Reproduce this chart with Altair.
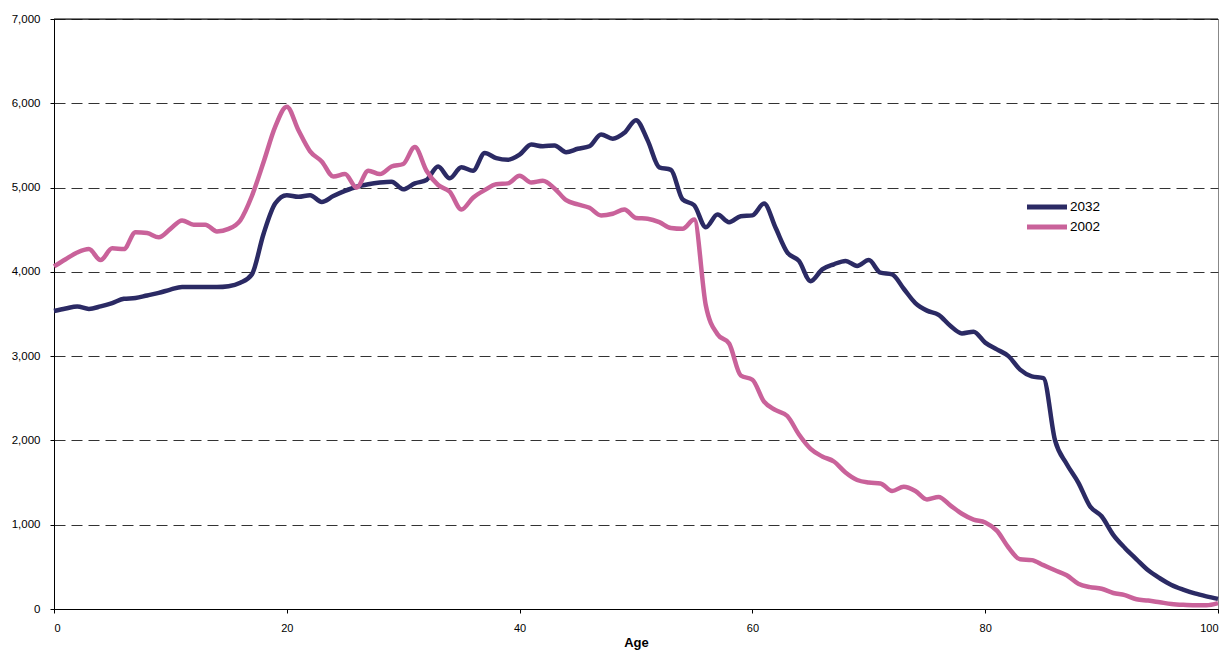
import altair as alt
import pandas as pd

ages = list(range(101))

pop_2032 = [
    3535, 3565, 3590, 3560, 3590, 3630, 3680, 3690, 3720, 3750,
    3790, 3820, 3820, 3820, 3820, 3830, 3870, 3970, 4450, 4810,
    4910, 4890, 4910, 4830, 4900, 4960, 5010, 5040, 5060, 5070,
    4980, 5050, 5090, 5250, 5110, 5240, 5200, 5410, 5350, 5330,
    5390, 5510, 5490, 5500, 5420, 5460, 5490, 5630, 5580, 5650,
    5800, 5560, 5240, 5210, 4860, 4790, 4530, 4680, 4590, 4660,
    4670, 4810, 4520, 4230, 4130, 3890, 4030, 4090, 4130, 4070,
    4140, 3990, 3970, 3800, 3630, 3540, 3490, 3360, 3270, 3290,
    3160, 3080, 3000, 2840, 2760, 2740, 2000, 1720, 1500, 1220,
    1100, 880, 724, 590, 460, 365, 285, 230, 185, 150,
    120,
]

pop_2002 = [
    4065, 4150, 4230, 4270, 4140, 4280, 4270, 4470, 4460, 4410,
    4510, 4610, 4560, 4560, 4480, 4510, 4610, 4900, 5300, 5720,
    5960, 5680, 5430, 5310, 5130, 5160, 5000, 5200, 5160, 5250,
    5280, 5480, 5200, 5030, 4950, 4740, 4880, 4970, 5040, 5050,
    5140, 5060, 5080, 4990, 4850, 4800, 4760, 4670, 4690, 4740,
    4640, 4630, 4590, 4520, 4510, 4620, 3600, 3260, 3150, 2770,
    2720, 2460, 2360, 2290, 2070, 1900, 1810, 1750, 1620, 1530,
    1500, 1490, 1400, 1450, 1400, 1300, 1330, 1230, 1130, 1060,
    1027, 930, 730, 590, 580, 520, 460, 400, 300, 260,
    240, 190, 165, 115, 100, 80, 60, 50, 45, 45,
    70,
]

series = ["2032", "2002"]
colors = ["#2B2A64", "#C9629A"]
x_ticks = [0, 20, 40, 60, 80, 100]
y_ticks = [0, 1000, 2000, 3000, 4000, 5000, 6000, 7000]
y_top = [7000]

df = pd.DataFrame({
    "Age": ages + ages,
    "Population": pop_2032 + pop_2002,
    "Year": [series[0]] * len(ages) + [series[1]] * len(ages),
})

font = "Liberation Sans"

y_axis = alt.Axis(
    values=y_ticks, format=",.0f", grid=True, gridDash=[11, 6],
    gridColor="#333", gridWidth=1, tickSize=4, labelPadding=10,
    labelFont=font, labelFontSize=11.5, labelColor="#000",
    domainColor="#000", tickColor="#000", title=None,
)
y_scale = alt.Scale(domain=[0, 7000], nice=False)

lines = alt.Chart(df).mark_line(strokeWidth=4.5, interpolate="monotone").encode(
    x=alt.X(
        "Age:Q",
        scale=alt.Scale(domain=[0, 100], nice=False),
        axis=alt.Axis(
            values=x_ticks, grid=False, tickSize=4, labelPadding=9,
            labelFont=font, labelFontSize=11, labelColor="#000",
            domainColor="#000", tickColor="#000",
            title="Age", titleFont=font, titleFontSize=13,
            titleFontWeight="bold", titleColor="#000", titlePadding=3,
        ),
    ),
    y=alt.Y("Population:Q", scale=y_scale, axis=y_axis),
    color=alt.Color(
        "Year:N",
        sort=series,
        scale=alt.Scale(domain=series, range=colors),
        legend=alt.Legend(
            title=None, orient="none", legendX=983, legendY=178,
            symbolType="M-2.667,0H2.667", symbolSize=225, symbolStrokeWidth=5,
            labelFont=font, labelFontSize=13.5, labelColor="#000",
            labelOffset=13, rowPadding=0,
        ),
    ),
)

top_border = alt.Chart(pd.DataFrame({"Population": y_top})).mark_rule(
    color="#000", strokeWidth=1
).encode(y=alt.Y("Population:Q", scale=y_scale, axis=y_axis))

chart = alt.layer(lines, top_border).properties(
    width=1164,
    height=590,
    autosize=alt.AutoSizeParams(type="none"),
    padding={"left": 46, "top": 11, "right": 3, "bottom": 41},
    background="#ffffff",
).configure_view(stroke="#888", strokeWidth=1)

chart.save("out.html", embed_options={"renderer": "svg", "actions": False})
